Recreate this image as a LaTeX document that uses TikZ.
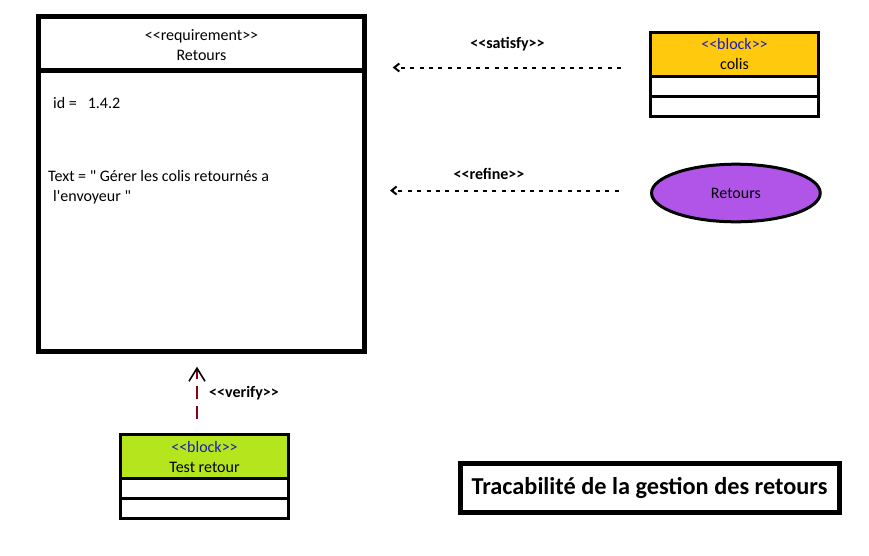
\documentclass[tikz,border=0pt]{standalone}
\usepackage{fontspec}
\setmainfont{Carlito}[Ligatures=TeXOff]
\usetikzlibrary{positioning,shapes.geometric,arrows.meta}
\definecolor{blockgold}{HTML}{FFC90E}
\definecolor{blocklime}{HTML}{B5E61D}
\definecolor{usecasepurple}{HTML}{B154E8}
\definecolor{verifyred}{HTML}{880015}
\definecolor{stereoblue}{HTML}{1C1CB4}
\begin{document}
\begin{tikzpicture}[
   x=1pt,y=-1pt,
   font=\fontsize{16}{20}\selectfont,
   reqhead/.style={draw,line width=4.5pt,minimum width=326pt,minimum height=54pt,inner sep=0pt,outer sep=0pt,align=center},
   reqbody/.style={draw,line width=4.5pt,minimum width=326pt,minimum height=281pt,inner sep=0pt,outer sep=0pt},
   blockhead/.style={draw,line width=3pt,minimum width=167.6pt,minimum height=44.2pt,inner sep=0pt,outer sep=0pt,align=center},
   blockrow/.style={draw,line width=3pt,fill=white,minimum width=167.6pt,minimum height=20pt,inner sep=0pt,outer sep=0pt},
   usecase/.style={draw,ellipse,line width=3pt,fill=usecasepurple,minimum width=168.7pt,minimum height=57.6pt,inner sep=0pt,outer sep=0pt},
   attr/.style={inner sep=0pt,align=left,anchor=base west},
   stereo/.style={font=\fontsize{16}{20}\selectfont\bfseries},
   rel/.style={-{Straight Barb[length=5pt,width=8pt]},line width=2pt,dash pattern=on 4pt off 5.4pt},
   verif/.style={-{Straight Barb[color=black,length=13pt,width=16pt,line width=1.6pt]},verifyred,line width=2pt,dash pattern=on 13pt off 7pt}]
\useasboundingbox (0,0) rectangle (869,555);
\node[reqhead] (req) at (201.5,43.5) {\rule{0pt}{15pt}<<requirement>>\\Retours};
\node[reqbody,below=0pt of req] (reqb) {};
\node[attr] (reqid) at (53,108) {id =\hspace{11pt}1.4.2};
\node[attr] (reqtext) at (48,201) {Text = " Gérer les colis retournés a\\\hspace{5pt}l'envoyeur "};
\node[blockhead,fill=blockgold] (colis) at (734.5,54.3) {\textcolor{stereoblue}{<<block>>}\\colis};
\node[blockrow,below=0pt of colis] (colis1) {};
\node[blockrow,below=0pt of colis1] (colis2) {};
\node[usecase] (retours) at (735.9,193) {Retours};
\node[blockhead,fill=blocklime] (test) at (204.5,456.5) {\textcolor{stereoblue}{<<block>>}\\Test retour};
\node[blockrow,below=0pt of test] (test1) {};
\node[blockrow,below=0pt of test1] (test2) {};
\node[draw,line width=5pt,minimum width=379pt,minimum height=49pt,font=\fontsize{24.3}{28}\selectfont\bfseries] (title) at (649.5,488) {Tracabilité de la gestion des retours};
\node[stereo] (satisfy) at (507.5,44) {<<satisfy>>};
\node[stereo] (refine) at (489,174) {<<refine>>};
\node[stereo,anchor=west,inner sep=0pt] (verify) at (209,393) {<<verify>>};
\coordinate (vbase) at ([xshift=-7.5pt]test.north);
\draw[rel,shorten <=29.7pt,shorten >=28.2pt] (colis.west |- 0,67.5) -- (req.east |- 0,67.5);
\draw[rel,shorten <=33pt,shorten >=25.5pt] (retours.west |- 0,190.5) -- (reqb.east |- 0,190.5);
\draw[verif,shorten <=15pt,shorten >=15.2pt] (vbase) -- (reqb.south -| vbase);
\end{tikzpicture}
\end{document}
